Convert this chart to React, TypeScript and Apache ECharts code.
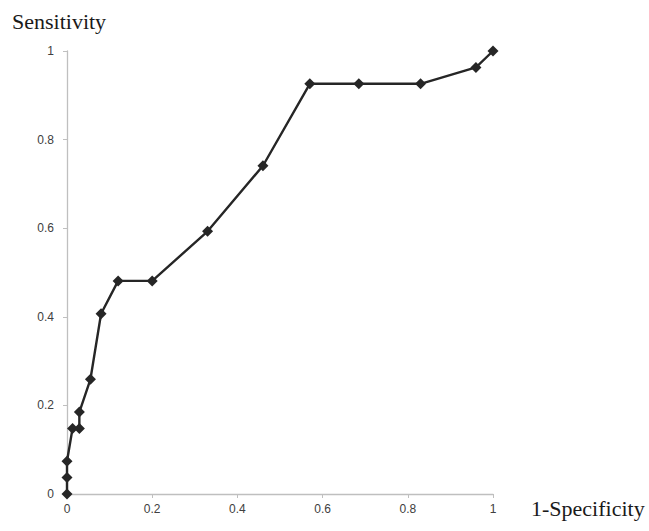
import React, { useEffect, useRef } from "react";
import * as echarts from "echarts";

const fpr: number[] = [0, 0, 0, 0.013, 0.029, 0.029, 0.055, 0.08, 0.12, 0.2, 0.33, 0.46, 0.57, 0.685, 0.83, 0.96, 1];
const sensitivity: number[] = [0, 0.037, 0.074, 0.148, 0.148, 0.185, 0.259, 0.407, 0.481, 0.481, 0.593, 0.741, 0.926, 0.926, 0.926, 0.963, 1];
const xTicks: number[] = [0, 0.2, 0.4, 0.6, 0.8, 1];
const yTicks: number[] = [0, 0.2, 0.4, 0.6, 0.8, 1];
const xTitle = "1-Specificity";
const yTitle = "Sensitivity";

export default function App() {
  const ref = useRef<HTMLDivElement>(null);
  useEffect(() => {
    if (!ref.current) return;
    const chart = echarts.init(ref.current, undefined, { renderer: "svg" });
    const fmt = (v: number) => (xTicks.includes(v) || yTicks.includes(v) ? String(v) : "");
    chart.setOption({
      animation: false,
      backgroundColor: "#ffffff",
      grid: { left: 67, right: 156, top: 51, bottom: 37 },
      xAxis: {
        type: "value",
        min: 0,
        max: 1,
        interval: 0.2,
        axisLine: { show: true, lineStyle: { color: "#bfbfbf", width: 1.3 } },
        axisTick: { show: true, length: 4, lineStyle: { color: "#bfbfbf" } },
        splitLine: { show: false },
        axisLabel: { color: "#404040", fontSize: 12, fontFamily: "Liberation Sans", margin: 9, formatter: fmt },
      },
      yAxis: {
        type: "value",
        min: 0,
        max: 1,
        interval: 0.2,
        axisLine: { show: true, lineStyle: { color: "#bfbfbf", width: 1.3 } },
        axisTick: { show: true, length: 4, lineStyle: { color: "#bfbfbf" } },
        splitLine: { show: false },
        axisLabel: { color: "#404040", fontSize: 12, fontFamily: "Liberation Sans", margin: 13, formatter: fmt },
      },
      series: [
        {
          type: "line",
          data: fpr.map((x, i) => [x, sensitivity[i]]),
          symbol: "diamond",
          symbolSize: 11,
          showSymbol: true,
          lineStyle: { color: "#262626", width: 2.4 },
          itemStyle: { color: "#262626" },
        },
      ],
      graphic: [
        {
          type: "text",
          x: 12,
          y: 21,
          style: { text: yTitle, font: "22px 'Liberation Serif'", fill: "#1a1a1a", textVerticalAlign: "middle", textAlign: "left" },
        },
        {
          type: "text",
          x: 531,
          y: 508,
          style: { text: xTitle, font: "22px 'Liberation Serif'", fill: "#1a1a1a", textVerticalAlign: "middle", textAlign: "left" },
        },
      ],
    });
    return () => chart.dispose();
  }, []);
  return (
    <div
      ref={ref}
      style={{ position: "fixed", left: 0, top: 0, width: 649, height: 531, background: "#fff" }}
    />
  );
}
